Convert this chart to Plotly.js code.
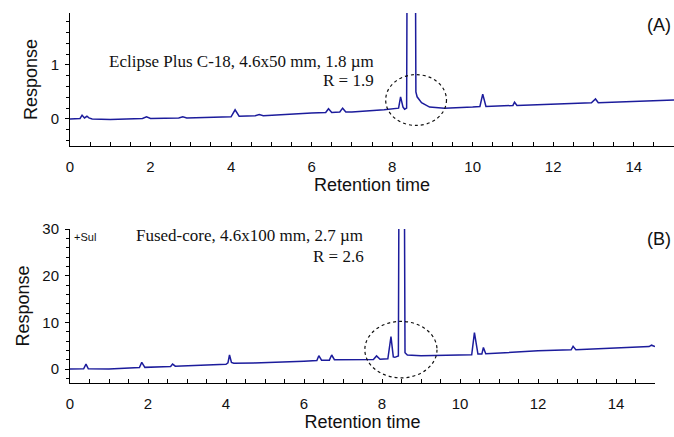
<!DOCTYPE html>
<html>
<head>
<meta charset="utf-8">
<script src="https://cdn.plot.ly/plotly-3.0.1.min.js"></script>
<style>html,body{margin:0;padding:0;background:#fff;}#chart{width:674px;height:437px;}</style>
</head>
<body>
<div id="chart"></div>
<script>
// Panel A: Eclipse Plus C-18
const timeA = [0, 0.25, 0.3, 0.36, 0.42, 0.47, 0.55, 1.0, 1.8, 1.9, 2.0, 2.7, 2.8, 2.9, 4.0, 4.1, 4.2, 4.6, 4.7, 4.8, 6.0, 6.35, 6.42, 6.5, 6.7, 6.77, 6.85, 7.0, 7.8, 8.1, 8.16, 8.21, 8.27, 8.31, 8.36, 8.47, 8.59, 8.62, 8.73, 8.93, 9.3, 10.0, 10.18, 10.25, 10.33, 11.0, 11.04, 11.1, 12.95, 13.05, 13.12, 15];
const respA = [0, 0.01, 0.07, 0.02, 0.05, 0.02, 0.0, -0.01, 0.01, 0.04, 0.01, 0.02, 0.04, 0.02, 0.04, 0.17, 0.05, 0.06, 0.08, 0.06, 0.11, 0.12, 0.19, 0.12, 0.13, 0.2, 0.13, 0.13, 0.17, 0.19, 0.2, 0.41, 0.22, 0.18, 0.2, 25, 0.5, 0.41, 0.30, 0.22, 0.2, 0.22, 0.23, 0.46, 0.23, 0.25, 0.31, 0.25, 0.3, 0.37, 0.3, 0.35];

// Panel B: Fused-core
const timeB = [0, 0.35, 0.41, 0.47, 1.0, 1.5, 1.78, 1.84, 1.92, 2.4, 2.58, 2.63, 2.7, 4.0, 4.05, 4.09, 4.14, 4.2, 4.6, 4.65, 4.72, 6.0, 6.33, 6.38, 6.45, 6.65, 6.71, 6.78, 7.0, 7.78, 7.86, 7.95, 8.15, 8.23, 8.29, 8.33, 8.42, 8.5, 8.59, 8.65, 9.0, 10.0, 10.3, 10.37, 10.46, 10.56, 10.6, 10.66, 11.6, 12.0, 12.85, 12.9, 12.97, 14.85, 14.91, 14.97, 15];
const respB = [0, 0.05, 1.06, 0.05, 0.0, 0.15, 0.3, 1.42, 0.35, 0.5, 0.55, 1.06, 0.6, 1.0, 1.3, 3.0, 1.4, 1.25, 1.25, 1.4, 1.3, 1.65, 1.8, 2.85, 1.9, 1.9, 3.0, 2.0, 2.0, 2.05, 2.8, 2.1, 2.2, 6.95, 2.6, 2.5, 2.8, 200, 3.5, 3.0, 2.85, 3.0, 3.05, 7.8, 3.2, 3.2, 4.6, 3.25, 3.7, 3.9, 4.1, 4.85, 4.15, 4.8, 5.1, 4.85, 4.8];

// Highlight ellipses (data coordinates)
const ellipseAX = [7.84, 9.35];
const ellipseAY = [-0.12, 0.82];
const ellipseBX = [7.56, 9.41];
const ellipseBY = [-1.9, 10.2];

// Labels
const labelA = "Eclipse Plus C-18, 4.6x50 mm, 1.8 µm";
const resA = "R = 1.9";
const labelB = "Fused-core, 4.6x100 mm, 2.7 µm";
const resB = "R = 2.6";
const panelA = "(A)";
const panelB = "(B)";
const sulLabel = "+Sul";
const xTitle = "Retention time";
const yTitle = "Response";

const W = 674, H = 437;
const px = v => v / W;
const py = v => 1 - v / H;

const lineColor = '#1c1c9c';
const sans = 'Liberation Sans, Arial, sans-serif';
const serif = 'Liberation Serif, Times New Roman, serif';

const traces = [
  {x: timeA, y: respA, type: 'scatter', mode: 'lines', xaxis: 'x', yaxis: 'y',
   line: {color: lineColor, width: 1.5}, hoverinfo: 'skip', showlegend: false},
  {x: timeB, y: respB, type: 'scatter', mode: 'lines', xaxis: 'x2', yaxis: 'y2',
   line: {color: lineColor, width: 1.5}, hoverinfo: 'skip', showlegend: false}
];

const xCommon = {
  range: [0, 15], tick0: 0, dtick: 2, ticks: 'inside', ticklen: 4, tickwidth: 1, tickcolor: '#000',
  showline: true, linecolor: '#000', linewidth: 1, showgrid: false, zeroline: false,
  tickfont: {family: sans, size: 15, color: '#111'}, ticklabelstandoff: 7,
  minor: {dtick: 0.5, tick0: 0, ticks: 'inside', ticklen: 4, tickcolor: '#000', showgrid: false},
  automargin: false, fixedrange: true
};
const yCommon = {
  ticks: 'outside', ticklen: 4, tickwidth: 1, tickcolor: '#000',
  showline: true, linecolor: '#000', linewidth: 1, showgrid: false, zeroline: false,
  tickfont: {family: sans, size: 15, color: '#111'}, ticklabelstandoff: 3,
  automargin: false, fixedrange: true
};

const layout = {
  width: W, height: H,
  margin: {l: 0, r: 0, t: 0, b: 0, pad: 0},
  paper_bgcolor: '#fff', plot_bgcolor: '#fff',
  showlegend: false,
  xaxis: Object.assign({}, xCommon, {domain: [px(70), 1], anchor: 'y',
    title: {text: xTitle, font: {family: sans, size: 18, color: '#111'}, standoff: 4}}),
  yaxis: Object.assign({}, yCommon, {domain: [py(146), py(13)], anchor: 'x', range: [-0.5, 1.96], tick0: 0, dtick: 1,
    minor: {dtick: 0.2, tick0: 0, ticks: 'outside', ticklen: 3, tickcolor: '#000', showgrid: false},
    title: {text: yTitle, font: {family: sans, size: 18, color: '#111'}, standoff: 8}}),
  xaxis2: Object.assign({}, xCommon, {domain: [px(70), px(655)], anchor: 'y2',
    title: {text: xTitle, font: {family: sans, size: 18, color: '#111'}, standoff: 4}}),
  yaxis2: Object.assign({}, yCommon, {domain: [py(383), py(229)], anchor: 'x2', range: [-3, 30], tick0: 0, dtick: 10,
    minor: {dtick: 2, tick0: 0, ticks: 'outside', ticklen: 3, tickcolor: '#000', showgrid: false},
    title: {text: yTitle, font: {family: sans, size: 18, color: '#111'}, standoff: 8}}),
  shapes: [
    {type: 'circle', xref: 'x', yref: 'y', x0: ellipseAX[0], x1: ellipseAX[1], y0: ellipseAY[0], y1: ellipseAY[1],
     line: {color: '#111', width: 1.2, dash: 'dot'}},
    {type: 'circle', xref: 'x2', yref: 'y2', x0: ellipseBX[0], x1: ellipseBX[1], y0: ellipseBY[0], y1: ellipseBY[1],
     line: {color: '#111', width: 1.2, dash: 'dot'}}
  ],
  annotations: [
    {text: labelA, xref: 'paper', yref: 'paper', x: px(107), y: py(62), xanchor: 'left', yanchor: 'middle',
     showarrow: false, font: {family: serif, size: 17, color: '#111'}},
    {text: resA, xref: 'paper', yref: 'paper', x: px(376), y: py(81), xanchor: 'right', yanchor: 'middle',
     showarrow: false, font: {family: serif, size: 17, color: '#111'}},
    {text: panelA, xref: 'paper', yref: 'paper', x: px(673), y: py(25), xanchor: 'right', yanchor: 'middle',
     showarrow: false, font: {family: sans, size: 18, color: '#111'}},
    {text: labelB, xref: 'paper', yref: 'paper', x: px(134), y: py(235), xanchor: 'left', yanchor: 'middle',
     showarrow: false, font: {family: serif, size: 17, color: '#111'}},
    {text: resB, xref: 'paper', yref: 'paper', x: px(366), y: py(256), xanchor: 'right', yanchor: 'middle',
     showarrow: false, font: {family: serif, size: 17, color: '#111'}},
    {text: sulLabel, xref: 'paper', yref: 'paper', x: px(72), y: py(237), xanchor: 'left', yanchor: 'middle',
     showarrow: false, font: {family: sans, size: 11, color: '#111'}},
    {text: panelB, xref: 'paper', yref: 'paper', x: px(673), y: py(239), xanchor: 'right', yanchor: 'middle',
     showarrow: false, font: {family: sans, size: 18, color: '#111'}}
  ]
};

Plotly.newPlot('chart', traces, layout, {staticPlot: true, displayModeBar: false});
</script>
</body>
</html>
